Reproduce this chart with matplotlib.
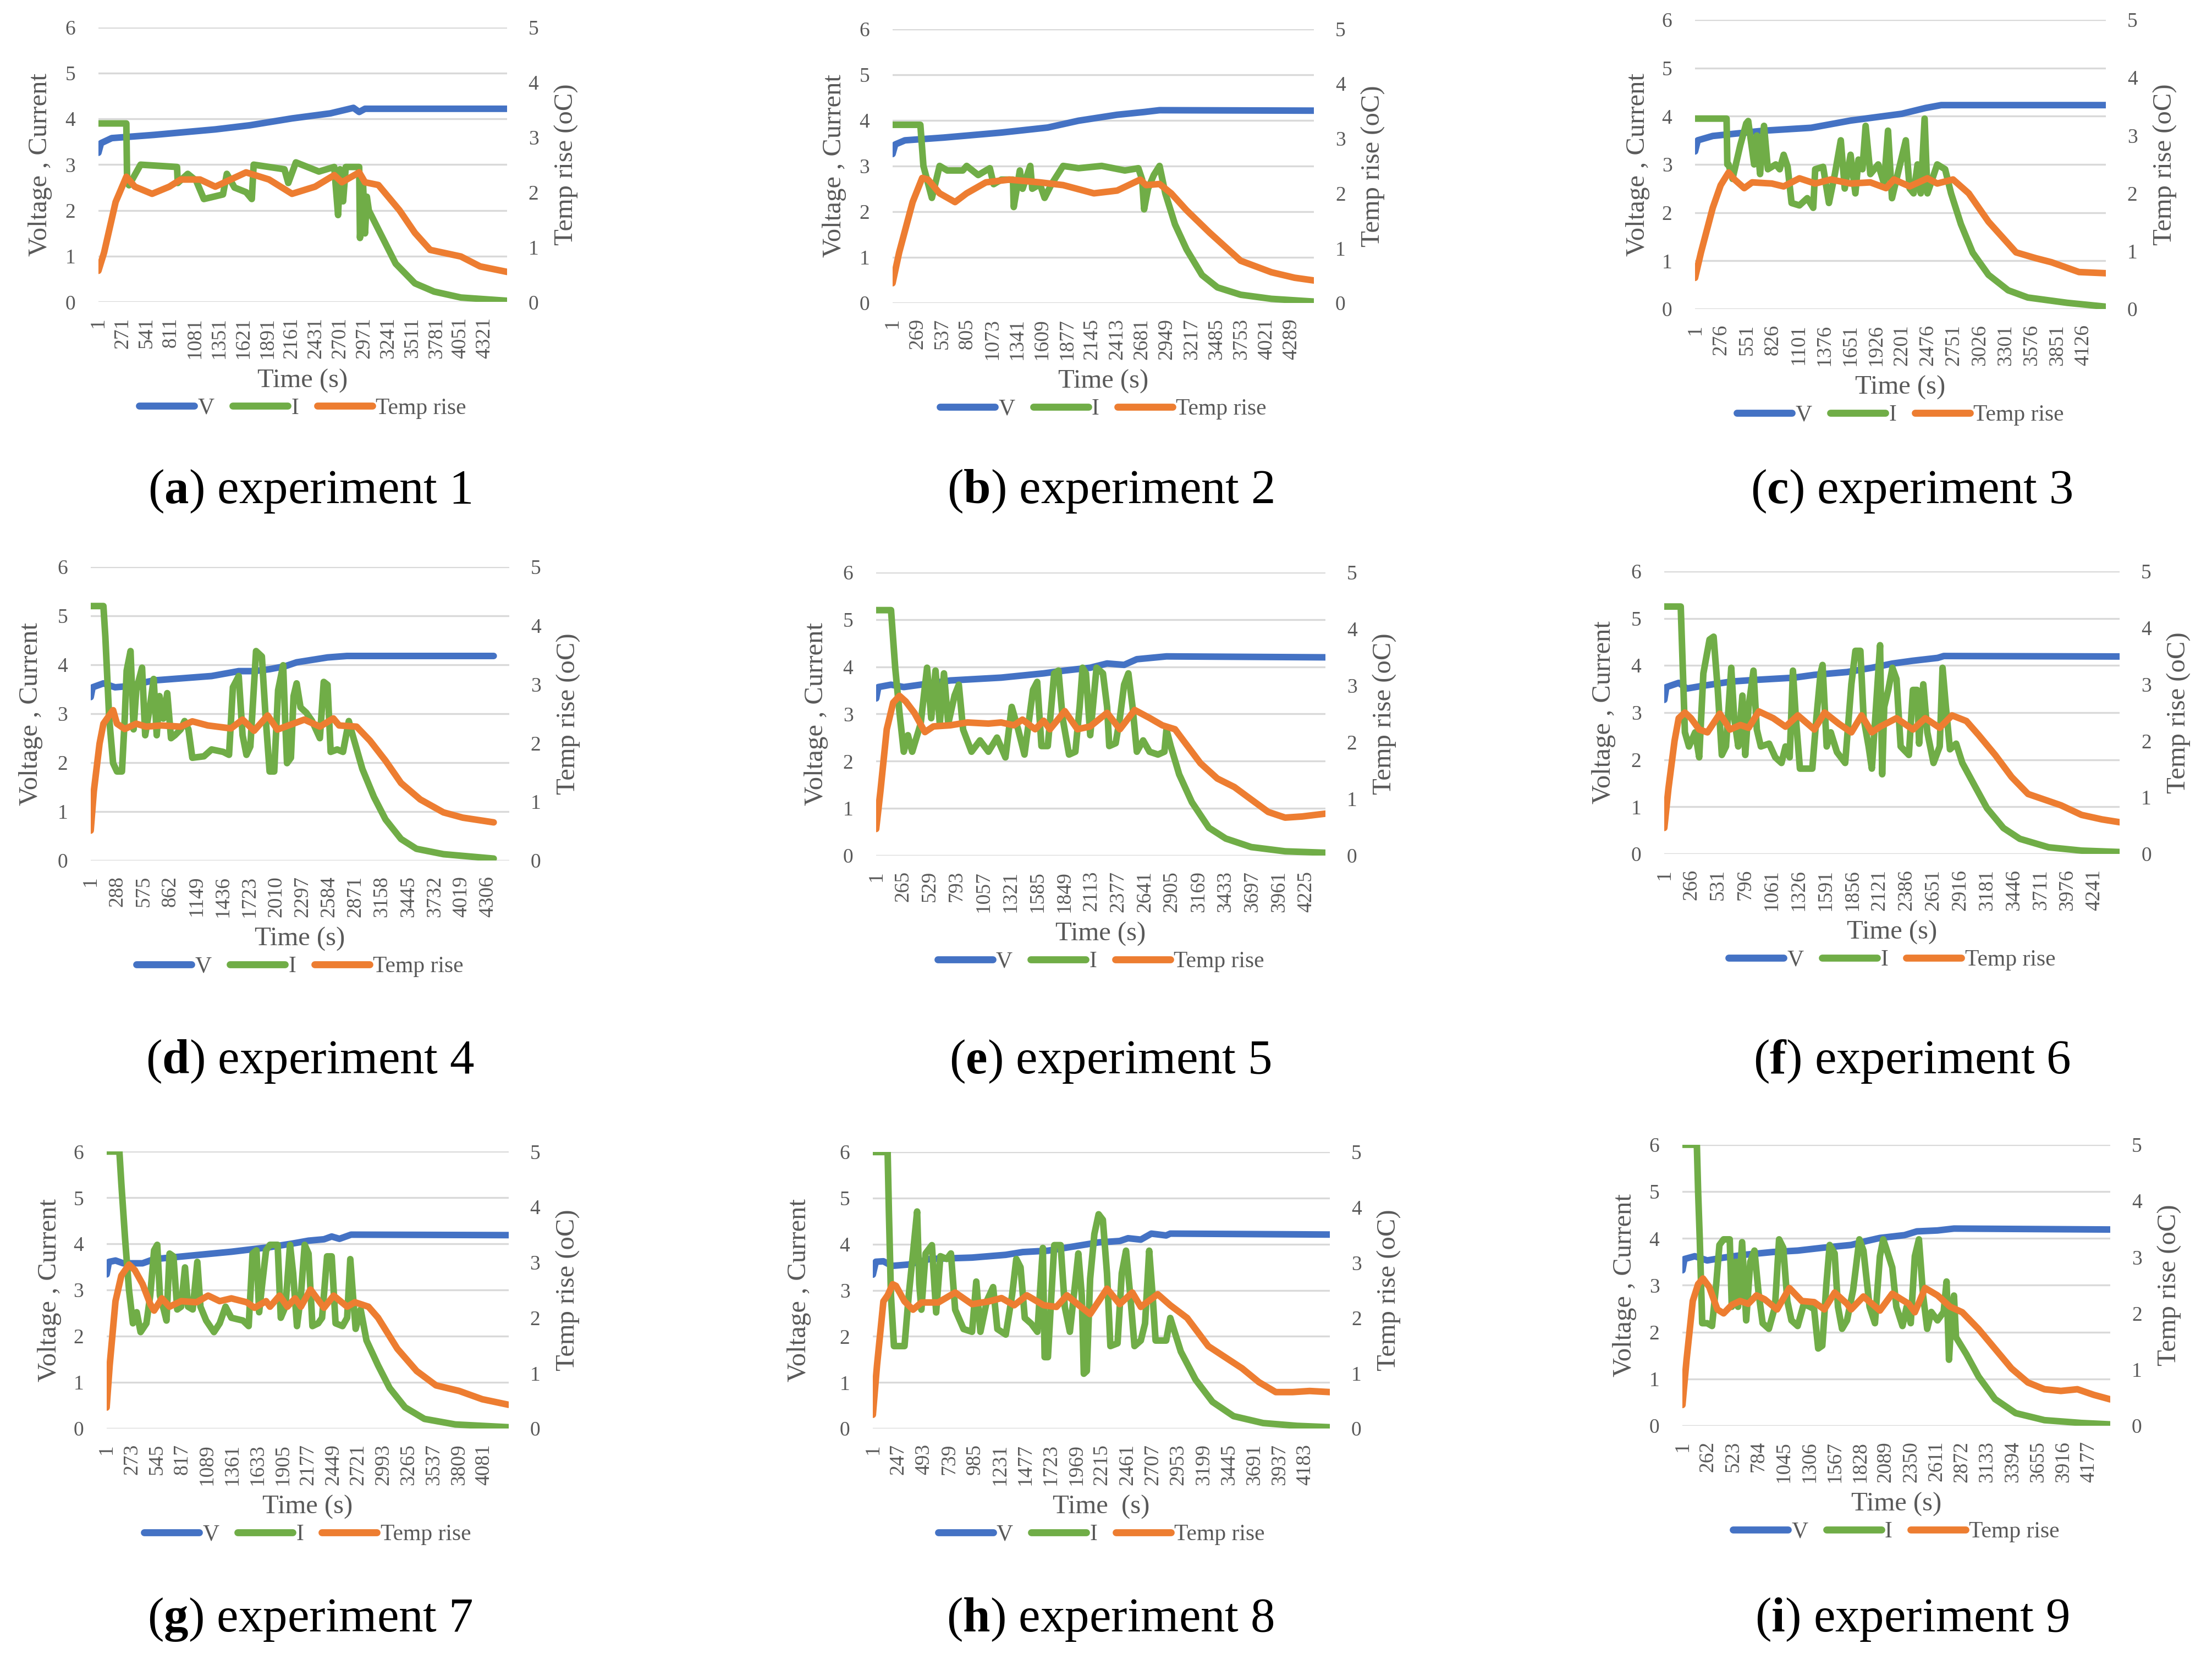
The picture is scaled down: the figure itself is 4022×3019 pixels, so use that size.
import matplotlib
matplotlib.use('Agg')
import matplotlib.pyplot as plt
from matplotlib.lines import Line2D

plt.rcParams['font.family'] = ['Liberation Serif', 'DejaVu Serif']
plt.rcParams['mathtext.fontset'] = 'custom'
plt.rcParams['mathtext.rm'] = 'Liberation Serif'
plt.rcParams['mathtext.bf'] = 'Liberation Serif:bold'

# ---- experiment 1 ----
t_v1 = [1, 30, 150, 622, 1308, 1695, 2166, 2595, 2853, 2917, 2982, 4570]
v1 = [3.26, 3.47, 3.58, 3.65, 3.77, 3.86, 4.01, 4.12, 4.24, 4.15, 4.22, 4.22]
t_i1 = [1, 313, 322, 343, 472, 880, 888, 1000, 1094, 1180, 1394, 1437, 1523, 1652, 1716, 1737, 2081, 2124, 2209, 2338,
        2467, 2638, 2681, 2703, 2737, 2767, 2917, 2926, 2960, 2982, 3003, 3025, 3154, 3325, 3540, 3755, 4055, 4570]
i1 = [3.9, 3.9, 2.6, 2.55, 3.0, 2.95, 2.6, 2.8, 2.65, 2.25, 2.35, 2.8, 2.5, 2.4, 2.25, 3.0, 2.9, 2.6, 3.05, 2.95,
      2.85, 2.95, 1.9, 2.9, 2.2, 2.95, 2.95, 1.4, 2.6, 1.5, 2.3, 2.0, 1.5, 0.84, 0.41, 0.23, 0.10, 0.03]
t_T1 = [1, 64, 193, 313, 408, 601, 794, 922, 1137, 1308, 1480, 1652, 1909, 2166, 2424, 2638, 2724, 2917, 2982, 3132,
        3368, 3540, 3711, 4054, 4269, 4570]
T1 = [0.57, 0.9, 1.82, 2.28, 2.10, 1.97, 2.10, 2.23, 2.23, 2.10, 2.23, 2.36, 2.23, 1.97, 2.10, 2.31, 2.18, 2.36, 2.18, 2.13,
      1.67, 1.26, 0.95, 0.83, 0.65, 0.55]
ticks1 = [1, 271, 541, 811, 1081, 1351, 1621, 1891, 2161, 2431, 2701, 2971, 3241, 3511, 3781, 4051, 4321]

# ---- experiment 2 ----
t_v2 = [1, 30, 134, 549, 1171, 1669, 2001, 2416, 2706, 2872, 4532]
v2 = [3.26, 3.47, 3.56, 3.62, 3.73, 3.84, 3.99, 4.12, 4.18, 4.22, 4.21]
t_i2 = [1, 300, 333, 424, 507, 590, 756, 798, 922, 1047, 1088, 1171, 1296, 1304, 1370, 1399, 1482, 1503, 1586, 1636,
        1710, 1835, 2001, 2250, 2499, 2644, 2685, 2706, 2748, 2810, 2872, 2934, 3038, 3163, 3329, 3495, 3744, 4075, 4532]
i2 = [3.9, 3.9, 3.0, 2.3, 3.0, 2.9, 2.9, 3.0, 2.8, 2.95, 2.6, 2.7, 2.7, 2.1, 2.9, 2.5, 3.0, 2.5, 2.6, 2.3,
      2.6, 3.0, 2.95, 3.0, 2.9, 2.95, 2.7, 2.05, 2.5, 2.8, 3.0, 2.4, 1.72, 1.17, 0.61, 0.34, 0.18, 0.09, 0.03]
t_T2 = [1, 72, 217, 320, 383, 507, 673, 798, 1005, 1254, 1586, 1835, 2166, 2416, 2664, 2727, 2872, 2997, 3163, 3412,
        3744, 4075, 4324, 4532]
T2 = [0.36, 0.92, 1.84, 2.28, 2.25, 2.0, 1.84, 2.0, 2.2, 2.25, 2.2, 2.15, 2.0, 2.05, 2.25, 2.15, 2.17, 2.0, 1.69, 1.28,
      0.77, 0.56, 0.46, 0.41]
ticks2 = [1, 269, 537, 805, 1073, 1341, 1609, 1877, 2145, 2413, 2681, 2949, 3217, 3485, 3753, 4021, 4289]

# ---- experiment 3 ----
t_v3 = [1, 30, 189, 733, 1236, 1654, 2198, 2450, 2617, 4367]
v3 = [3.27, 3.50, 3.59, 3.70, 3.76, 3.91, 4.05, 4.17, 4.23, 4.23]
t_i3 = [1, 336, 344, 357, 399, 482, 545, 566, 629, 658, 692, 734, 775, 859, 901, 943, 985, 1027, 1110, 1194,
        1257, 1278, 1362, 1424, 1487, 1550, 1592, 1654, 1705, 1738, 1780, 1814, 1864, 1948, 2010, 2052, 2094, 2241, 2282, 2324,
        2366, 2400, 2441, 2471, 2575, 2659, 2722, 2827, 2952, 3120, 3329, 3538, 3957, 4367]
i3 = [3.95, 3.95, 3.0, 3.0, 2.7, 3.4, 3.85, 3.9, 3.0, 3.6, 2.8, 3.8, 2.9, 3.0, 2.9, 3.2, 2.95, 2.2, 2.15, 2.3,
      2.1, 2.9, 2.95, 2.2, 2.8, 3.5, 2.5, 3.2, 2.4, 3.1, 2.9, 3.8, 2.8, 3.0, 2.6, 3.7, 2.3, 3.5, 2.5, 2.4,
      3.0, 2.4, 3.95, 2.4, 3.0, 2.9, 2.4, 1.76, 1.17, 0.71, 0.39, 0.24, 0.13, 0.05]
t_T3 = [1, 64, 189, 273, 357, 420, 524, 608, 817, 943, 1110, 1278, 1445, 1654, 1864, 2031, 2115, 2282, 2471, 2575,
        2743, 2910, 3120, 3413, 3622, 3789, 4082, 4367]
T3 = [0.54, 0.98, 1.75, 2.14, 2.36, 2.24, 2.09, 2.19, 2.17, 2.12, 2.26, 2.17, 2.24, 2.17, 2.19, 2.09, 2.24, 2.12, 2.26, 2.17,
      2.24, 2.0, 1.51, 0.98, 0.88, 0.81, 0.64, 0.62]
ticks3 = [1, 276, 551, 826, 1101, 1376, 1651, 1926, 2201, 2476, 2751, 3026, 3301, 3576, 3851, 4126]

# ---- experiment 4 ----
t_v4 = [1, 22, 139, 265, 391, 684, 1312, 1606, 1773, 1941, 2109, 2234, 2569, 2779, 4371]
v4 = [3.34, 3.54, 3.62, 3.54, 3.56, 3.68, 3.77, 3.87, 3.87, 3.91, 3.97, 4.05, 4.15, 4.18, 4.18]
t_i4 = [1, 139, 160, 202, 244, 286, 340, 370, 391, 433, 466, 495, 558, 592, 642, 684, 717, 747, 789, 831,
        872, 914, 977, 1019, 1061, 1103, 1229, 1312, 1438, 1501, 1543, 1606, 1648, 1690, 1732, 1794, 1857, 1899, 1941, 1991,
        2033, 2088, 2109, 2130, 2172, 2201, 2234, 2276, 2339, 2402, 2486, 2528, 2569, 2603, 2674, 2737, 2800, 2842, 2947, 3072,
        3198, 3366, 3533, 3826, 4371]
i4 = [5.2, 5.2, 4.57, 2.9, 1.99, 1.82, 1.82, 2.9, 3.88, 4.28, 2.68, 3.48, 3.94, 2.56, 3.13, 3.71, 2.56, 3.36, 2.9, 3.42,
      2.5, 2.56, 2.68, 2.85, 2.68, 2.10, 2.13, 2.27, 2.22, 2.16, 3.54, 3.77, 2.56, 2.16, 2.33, 4.28, 4.17, 2.9, 1.82, 1.82,
      3.48, 3.99, 2.9, 1.99, 2.1, 3.36, 3.62, 3.13, 3.02, 2.85, 2.5, 3.65, 3.59, 2.22, 2.27, 2.22, 2.85, 2.56, 1.87, 1.30,
      0.84, 0.44, 0.24, 0.13, 0.04]
t_T4 = [1, 35, 97, 139, 202, 244, 286, 370, 495, 600, 768, 977, 1103, 1271, 1522, 1648, 1773, 1920, 2025, 2318,
        2486, 2632, 2695, 2884, 3030, 3198, 3366, 3575, 3826, 4036, 4371]
T4 = [0.51, 1.18, 1.99, 2.33, 2.47, 2.56, 2.33, 2.24, 2.33, 2.28, 2.30, 2.28, 2.37, 2.30, 2.25, 2.40, 2.21, 2.47, 2.23, 2.40,
      2.28, 2.42, 2.30, 2.28, 2.04, 1.70, 1.32, 1.04, 0.82, 0.73, 0.65]
ticks4 = [1, 288, 575, 862, 1149, 1436, 1723, 2010, 2297, 2584, 2871, 3158, 3445, 3732, 4019, 4306]

# ---- experiment 5 ----
t_v5 = [1, 22, 147, 272, 438, 730, 1229, 1646, 1854, 2104, 2270, 2437, 2562, 2853, 4415]
v5 = [3.33, 3.57, 3.62, 3.57, 3.62, 3.71, 3.77, 3.86, 3.92, 3.98, 4.07, 4.04, 4.16, 4.22, 4.20]
t_i5 = [1, 147, 188, 230, 272, 313, 355, 438, 501, 542, 584, 626, 667, 709, 771, 813, 855, 938, 1021, 1104,
        1188, 1271, 1333, 1396, 1458, 1542, 1583, 1625, 1687, 1750, 1792, 1833, 1896, 1958, 2000, 2029, 2062, 2104, 2166, 2229,
        2270, 2291, 2354, 2395, 2437, 2479, 2520, 2562, 2624, 2687, 2770, 2833, 2853, 2895, 2978, 3103, 3270, 3436, 3686, 4019,
        4415]
i5 = [5.2, 5.2, 3.98, 3.03, 2.20, 2.55, 2.2, 2.79, 3.98, 2.91, 3.92, 2.79, 3.86, 2.79, 3.39, 3.62, 2.67, 2.2, 2.44, 2.2,
      2.5, 2.08, 3.15, 2.67, 2.14, 3.51, 3.68, 2.32, 2.32, 3.86, 3.92, 2.91, 2.14, 2.2, 3.15, 3.98, 3.86, 2.55, 3.98, 3.86,
      3.15, 2.32, 2.38, 2.91, 3.62, 3.86, 3.15, 2.2, 2.44, 2.2, 2.14, 2.2, 2.67, 2.32, 1.72, 1.13, 0.59, 0.36, 0.18, 0.09,
      0.06]
t_T5 = [1, 43, 105, 168, 230, 292, 376, 480, 563, 730, 896, 1104, 1229, 1354, 1438, 1563, 1646, 1708, 1854, 1979,
        2104, 2270, 2395, 2541, 2687, 2812, 2937, 3020, 3187, 3353, 3520, 3686, 3853, 4019, 4186, 4415]
T5 = [0.47, 1.14, 2.23, 2.70, 2.82, 2.72, 2.52, 2.18, 2.28, 2.30, 2.35, 2.33, 2.35, 2.30, 2.40, 2.23, 2.38, 2.23, 2.55, 2.23,
      2.28, 2.52, 2.23, 2.57, 2.43, 2.30, 2.23, 2.03, 1.63, 1.36, 1.21, 0.99, 0.77, 0.67, 0.69, 0.74]
ticks5 = [1, 265, 529, 793, 1057, 1321, 1585, 1849, 2113, 2377, 2641, 2905, 3169, 3433, 3697, 3961, 4225]

# ---- experiment 6 ----
t_v6 = [1, 21, 143, 224, 386, 670, 872, 1277, 1480, 1804, 2047, 2250, 2452, 2696, 2756, 4491]
v6 = [3.27, 3.54, 3.63, 3.51, 3.57, 3.66, 3.69, 3.74, 3.80, 3.86, 3.95, 4.04, 4.10, 4.16, 4.20, 4.19]
t_i6 = [1, 163, 183, 204, 244, 305, 345, 386, 447, 487, 528, 568, 609, 661, 690, 730, 771, 799, 832, 880,
        913, 953, 1034, 1095, 1156, 1196, 1237, 1269, 1298, 1338, 1460, 1500, 1541, 1561, 1602, 1642, 1703, 1784, 1845, 1885,
        1934, 1966, 2015, 2047, 2088, 2128, 2149, 2169, 2209, 2250, 2290, 2331, 2412, 2452, 2493, 2513, 2554, 2594, 2655, 2716,
        2744, 2777, 2817, 2878, 2939, 3060, 3182, 3344, 3506, 3790, 4114, 4491]
i6 = [5.25, 5.25, 3.95, 2.58, 2.28, 2.58, 2.05, 3.83, 4.55, 4.61, 3.48, 2.1, 2.28, 3.95, 2.88, 2.28, 3.36, 2.1, 3.12, 3.89,
      2.64, 2.28, 2.34, 2.05, 1.93, 2.28, 2.05, 3.89, 2.88, 1.81, 1.81, 2.88, 3.83, 4.01, 2.28, 2.58, 2.16, 1.93, 3.60, 4.31,
      4.31, 2.88, 2.28, 1.81, 3.12, 4.43, 1.69, 3.12, 3.48, 3.95, 3.71, 2.28, 2.1, 3.48, 3.48, 2.34, 3.60, 2.58, 1.93, 2.28,
      3.95, 3.12, 2.22, 2.34, 1.93, 1.45, 0.97, 0.55, 0.32, 0.14, 0.07, 0.04]
t_T6 = [1, 42, 102, 143, 204, 264, 345, 426, 548, 649, 751, 832, 933, 1075, 1196, 1318, 1480, 1581, 1723, 1845,
        1946, 2047, 2128, 2290, 2452, 2574, 2716, 2837, 2979, 3101, 3263, 3425, 3587, 3749, 3911, 4114, 4316, 4491]
T6 = [0.46, 1.16, 2.0, 2.40, 2.50, 2.40, 2.20, 2.15, 2.48, 2.20, 2.28, 2.23, 2.52, 2.40, 2.25, 2.45, 2.20, 2.50, 2.30, 2.15,
      2.45, 2.15, 2.25, 2.40, 2.20, 2.40, 2.23, 2.45, 2.35, 2.10, 1.75, 1.36, 1.06, 0.96, 0.86, 0.69, 0.61, 0.56]
ticks6 = [1, 266, 531, 796, 1061, 1326, 1591, 1856, 2121, 2386, 2651, 2916, 3181, 3446, 3711, 3976, 4241]

# ---- experiment 7 ----
t_v7 = [1, 26, 97, 180, 389, 514, 931, 1349, 1599, 1766, 2016, 2183, 2350, 2433, 2517, 2642, 4344]
v7 = [3.34, 3.61, 3.64, 3.58, 3.58, 3.67, 3.75, 3.83, 3.89, 3.93, 4.01, 4.07, 4.10, 4.16, 4.11, 4.20, 4.19]
t_i7 = [1, 139, 160, 201, 243, 285, 326, 368, 431, 472, 514, 548, 577, 618, 648, 681, 723, 764, 806, 848,
        881, 931, 981, 1015, 1077, 1161, 1223, 1286, 1349, 1474, 1536, 1578, 1620, 1649, 1682, 1724, 1766, 1849, 1883, 1933,
        1983, 2016, 2058, 2100, 2141, 2183, 2225, 2287, 2329, 2383, 2433, 2475, 2550, 2600, 2634, 2663, 2692, 2746, 2809, 2934,
        3059, 3226, 3435, 3768, 4344]
i7 = [6.0, 6.0, 5.31, 4.1, 3.0, 2.28, 2.52, 2.09, 2.28, 2.88, 3.86, 3.98, 2.88, 2.58, 2.34, 3.79, 3.73, 2.58, 2.64, 3.49,
      2.64, 2.58, 3.61, 2.64, 2.34, 2.09, 2.28, 2.64, 2.40, 2.34, 2.22, 3.79, 3.86, 2.52, 3.13, 3.86, 3.98, 3.98, 2.40, 2.64,
      3.98, 3.37, 2.22, 2.88, 3.98, 3.79, 2.22, 2.28, 2.40, 3.73, 3.73, 2.28, 2.22, 2.40, 3.67, 2.88, 2.16, 2.58, 1.91, 1.37,
      0.88, 0.46, 0.21, 0.09, 0.03]
t_T7 = [1, 34, 97, 160, 243, 306, 389, 472, 514, 598, 681, 806, 973, 1098, 1223, 1349, 1515, 1599, 1724, 1766,
        1870, 1954, 2037, 2100, 2204, 2350, 2454, 2600, 2684, 2830, 2934, 3143, 3351, 3560, 3810, 4060, 4344]
T7 = [0.38, 1.14, 2.30, 2.76, 2.96, 2.86, 2.61, 2.25, 2.13, 2.35, 2.20, 2.30, 2.28, 2.40, 2.30, 2.35, 2.28, 2.18, 2.30, 2.20,
      2.40, 2.20, 2.35, 2.20, 2.51, 2.18, 2.40, 2.20, 2.28, 2.20, 2.0, 1.44, 1.04, 0.78, 0.68, 0.53, 0.43]
ticks7 = [1, 273, 545, 817, 1089, 1361, 1633, 1905, 2177, 2449, 2721, 2993, 3265, 3537, 3809, 4081]

# ---- experiment 8 ----
t_v8 = [1, 30, 103, 185, 348, 552, 960, 1286, 1449, 1694, 1857, 2021, 2184, 2388, 2469, 2592, 2694, 2837, 2877, 4420]
v8 = [3.34, 3.62, 3.63, 3.53, 3.56, 3.68, 3.71, 3.77, 3.83, 3.86, 3.92, 3.98, 4.04, 4.07, 4.13, 4.10, 4.23, 4.19, 4.23, 4.21]
t_i8 = [1, 144, 156, 176, 205, 307, 348, 389, 429, 450, 470, 511, 572, 613, 654, 715, 756, 797, 878, 960,
        1001, 1041, 1103, 1164, 1205, 1286, 1347, 1388, 1429, 1470, 1531, 1592, 1645, 1662, 1694, 1727, 1755, 1817, 1857, 1906,
        1959, 1988, 2021, 2041, 2070, 2102, 2143, 2184, 2225, 2265, 2298, 2367, 2408, 2449, 2490, 2531, 2592, 2633, 2673, 2706,
        2735, 2837, 2877, 2979, 3122, 3285, 3489, 3775, 4101, 4420]
i8 = [6.0, 6.0, 4.71, 2.89, 1.79, 1.79, 2.89, 3.80, 4.71, 3.13, 2.58, 3.80, 3.98, 2.52, 3.74, 3.68, 3.80, 2.58, 2.16, 2.10,
      3.19, 2.10, 2.77, 3.07, 2.16, 2.04, 2.89, 3.68, 3.50, 2.40, 2.28, 2.10, 3.92, 1.55, 1.55, 2.89, 3.98, 3.98, 2.64, 2.10,
      3.19, 3.80, 2.89, 1.19, 1.25, 3.25, 4.22, 4.65, 4.53, 3.37, 1.79, 1.85, 3.37, 3.86, 2.89, 1.79, 1.91, 2.28, 3.86, 2.89,
      1.91, 1.91, 2.40, 1.67, 1.06, 0.58, 0.27, 0.12, 0.06, 0.03]
t_T8 = [1, 41, 103, 144, 193, 225, 307, 389, 470, 633, 797, 960, 1123, 1245, 1368, 1490, 1653, 1776, 1878, 1980,
        2102, 2184, 2265, 2388, 2510, 2592, 2755, 2877, 3040, 3245, 3408, 3571, 3734, 3897, 4060, 4224, 4420]
T8 = [0.25, 1.14, 2.30, 2.41, 2.61, 2.58, 2.30, 2.15, 2.28, 2.28, 2.46, 2.25, 2.30, 2.36, 2.23, 2.41, 2.23, 2.20, 2.41, 2.25,
      2.07, 2.30, 2.53, 2.25, 2.46, 2.20, 2.43, 2.23, 2.0, 1.49, 1.29, 1.09, 0.84, 0.66, 0.66, 0.68, 0.66]
ticks8 = [1, 247, 493, 739, 985, 1231, 1477, 1723, 1969, 2215, 2461, 2707, 2953, 3199, 3445, 3691, 3937, 4183]

# ---- experiment 9 ----
t_v9 = [1, 22, 128, 255, 424, 635, 931, 1185, 1438, 1734, 1903, 2030, 2283, 2410, 2622, 2791, 4397]
v9 = [3.32, 3.56, 3.62, 3.53, 3.59, 3.65, 3.71, 3.74, 3.80, 3.86, 3.95, 4.01, 4.07, 4.15, 4.17, 4.21, 4.19]
t_i9 = [1, 149, 162, 179, 204, 255, 305, 348, 381, 424, 487, 508, 550, 572, 614, 656, 698, 741, 783, 825,
        889, 952, 994, 1037, 1079, 1121, 1185, 1248, 1311, 1354, 1396, 1438, 1480, 1514, 1565, 1599, 1641, 1692, 1755, 1819,
        1861, 1924, 1979, 2030, 2064, 2093, 2157, 2199, 2262, 2305, 2347, 2389, 2431, 2474, 2516, 2558, 2622, 2685, 2715, 2740,
        2770, 2791, 2812, 2918, 3044, 3213, 3425, 3721, 4101, 4397]
i9 = [6.0, 6.0, 5.0, 3.98, 2.19, 2.19, 2.13, 3.02, 3.86, 3.98, 3.98, 2.54, 3.50, 2.54, 3.92, 2.25, 3.50, 3.74, 2.84, 2.19,
      2.07, 2.54, 3.98, 3.80, 2.66, 2.25, 2.13, 2.60, 2.54, 2.49, 1.65, 1.71, 3.02, 3.86, 3.68, 2.54, 2.07, 2.25, 2.90, 3.98,
      3.74, 2.54, 2.19, 3.62, 3.98, 3.80, 3.38, 2.54, 2.13, 2.54, 2.19, 3.62, 3.98, 2.78, 2.07, 2.43, 2.25, 2.43, 3.08, 1.41,
      2.49, 2.78, 1.89, 1.53, 1.05, 0.57, 0.27, 0.12, 0.06, 0.03]
t_T9 = [1, 43, 107, 162, 212, 276, 360, 424, 508, 593, 677, 762, 846, 973, 1100, 1227, 1354, 1459, 1565, 1692,
        1734, 1861, 2030, 2157, 2326, 2389, 2495, 2622, 2749, 2876, 3044, 3213, 3382, 3551, 3721, 3890, 4059, 4228, 4397]
T9 = [0.37, 1.17, 2.22, 2.52, 2.62, 2.47, 2.07, 2.0, 2.15, 2.22, 2.17, 2.32, 2.25, 2.07, 2.45, 2.22, 2.20, 2.07, 2.37, 2.17,
      2.07, 2.30, 2.05, 2.35, 2.17, 2.02, 2.45, 2.32, 2.12, 2.02, 1.72, 1.37, 1.02, 0.77, 0.65, 0.62, 0.65, 0.55, 0.47]
ticks9 = [1, 262, 523, 784, 1045, 1306, 1567, 1828, 2089, 2350, 2611, 2872, 3133, 3394, 3655, 3916, 4177]

# last category on each time axis
x_end = [4570, 4532, 4367, 4539, 4415, 4491, 4344, 4420, 4397]
letters = ['a', 'b', 'c', 'd', 'e', 'f', 'g', 'h', 'i']
xlabels = ['Time (s)'] * 7 + ['Time  (s)', 'Time (s)']

experiments = [
    (t_v1, v1, t_i1, i1, t_T1, T1, ticks1),
    (t_v2, v2, t_i2, i2, t_T2, T2, ticks2),
    (t_v3, v3, t_i3, i3, t_T3, T3, ticks3),
    (t_v4, v4, t_i4, i4, t_T4, T4, ticks4),
    (t_v5, v5, t_i5, i5, t_T5, T5, ticks5),
    (t_v6, v6, t_i6, i6, t_T6, T6, ticks6),
    (t_v7, v7, t_i7, i7, t_T7, T7, ticks7),
    (t_v8, v8, t_i8, i8, t_T8, T8, ticks8),
    (t_v9, v9, t_i9, i9, t_T9, T9, ticks9),
]

# panel boxes in figure fractions [left, bottom, width, height]
rects = [
    [0.0445, 0.8180, 0.1847, 0.1656],
    [0.4035, 0.8175, 0.1905, 0.1651],
    [0.7663, 0.8138, 0.1857, 0.1743],
    [0.0410, 0.4816, 0.1892, 0.1769],
    [0.3961, 0.4846, 0.2031, 0.1706],
    [0.7524, 0.4856, 0.2059, 0.1703],
    [0.0482, 0.1394, 0.1817, 0.1669],
    [0.3946, 0.1394, 0.2066, 0.1666],
    [0.7606, 0.1411, 0.1934, 0.1693],
]
ylab_off = [106, 106, 104, 109, 109, 110, 104, 134, 105]   # px left of plot
caption_x = [0.1402, 0.5020, 0.8643]
caption_y = [0.7042, 0.3604, 0.0245]

BLUE, GREEN, ORANGE = '#4472C4', '#70AD47', '#ED7D31'
GRID, TXT = '#D9D9D9', '#595959'
W, H = 4022, 3019
LW = 4.3

fig = plt.figure(figsize=(W / 200, H / 200), dpi=200)

for k, (tv, v, ti, ci, tt, tr, ticks) in enumerate(experiments):
    rect = rects[k]
    ax = fig.add_axes(rect)
    ax2 = ax.twinx()
    wpx, hpx = rect[2] * W, rect[3] * H

    ax.plot(tv, v, color=BLUE, lw=LW, solid_joinstyle='round', solid_capstyle='round')
    ax.plot(ti, ci, color=GREEN, lw=LW, solid_joinstyle='round', solid_capstyle='round')
    ax2.plot(tt, tr, color=ORANGE, lw=LW, solid_joinstyle='round', solid_capstyle='round')

    ax.set_xlim(1, x_end[k])
    ax.set_ylim(0, 6)
    ax2.set_ylim(0, 5)
    ax.set_yticks(range(0, 7))
    ax2.set_yticks(range(0, 6))
    ax.set_xticks(ticks)
    ax.set_xticklabels([str(t) for t in ticks], rotation=90)
    ax.grid(axis='y', color=GRID, lw=1.2)
    ax.set_axisbelow(True)
    for a in (ax, ax2):
        for s in a.spines.values():
            s.set_visible(False)
    ax.tick_params(axis='x', length=0, pad=10, labelsize=13.5, labelcolor=TXT)
    ax.tick_params(axis='y', length=0, pad=15, labelsize=13.5, labelcolor=TXT)
    ax2.tick_params(axis='y', length=0, pad=14, labelsize=13.5, labelcolor=TXT)

    ax.text(-ylab_off[k] / wpx, 0.5, 'Voltage , Current', rotation=90, ha='center', va='center',
            transform=ax.transAxes, fontsize=17.5, color=TXT)
    ax.text(1 + 108 / wpx, 0.5, 'Temp rise (oC)', rotation=90, ha='center', va='center',
            transform=ax.transAxes, fontsize=17.5, color=TXT)
    ax.text(0.5, -143 / hpx, xlabels[k], ha='center', va='center',
            transform=ax.transAxes, fontsize=17.5, color=TXT)

    handles = [Line2D([], [], color=BLUE, lw=4.6, solid_capstyle='round'),
               Line2D([], [], color=GREEN, lw=4.6, solid_capstyle='round'),
               Line2D([], [], color=ORANGE, lw=4.6, solid_capstyle='round')]
    leg = ax2.legend(handles, ['V', 'I', 'Temp rise'], loc='center', bbox_to_anchor=(0.5, -193 / hpx),
                     ncol=3, frameon=False, fontsize=15, handlelength=2.4, handletextpad=0.15,
                     columnspacing=0.8, borderaxespad=0)
    for txt in leg.get_texts():
        txt.set_color(TXT)

    fig.text(caption_x[k % 3], caption_y[k // 3],
             r'($\mathbf{%s}$) experiment %d' % (letters[k], k + 1),
             ha='center', va='center', fontsize=32, color='black')

fig.savefig('out.png', dpi=200, facecolor='white')
